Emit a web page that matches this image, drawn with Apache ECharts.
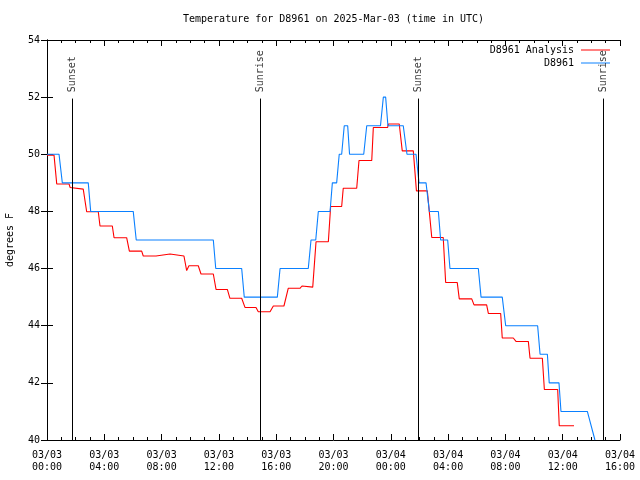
<!DOCTYPE html>
<html>
<head>
<meta charset="utf-8">
<script src="https://cdn.jsdelivr.net/npm/echarts@6/dist/echarts.min.js"></script>
<style>html,body{margin:0;padding:0;background:#fff}#c{width:640px;height:480px}</style>
</head>
<body>
<div id="c"></div>
<script>
// Hours since 2025-03-03 00:00 UTC
const tickLabels = ['03/03\n00:00','03/03\n04:00','03/03\n08:00','03/03\n12:00','03/03\n16:00','03/03\n20:00',
  '03/04\n00:00','03/04\n04:00','03/04\n08:00','03/04\n12:00','03/04\n16:00'];

const analysisHours = [0,0.49,0.68,1.54,1.61,2.53,2.77,3.58,3.70,4.56,4.68,5.56,5.75,6.61,6.72,7.61,7.71,8.59,8.70,9.56,
  9.75,9.91,10.56,10.75,11.61,11.80,12.59,12.77,13.59,13.82,14.59,14.75,15.57,15.80,16.54,16.84,17.66,17.80,18.55,18.78,
  19.64,19.80,20.57,20.68,21.62,21.78,22.67,22.78,23.78,23.83,24.59,24.80,25.57,25.79,26.55,26.86,27.66,27.83,28.64,28.78,
  29.65,29.81,30.69,30.81,31.67,31.78,32.55,32.74,33.60,33.72,34.58,34.72,35.65,35.76,36.79];
const analysisTemps = [49.97,49.97,48.96,48.96,48.84,48.78,47.99,47.99,47.49,47.49,47.08,47.08,46.61,46.61,46.44,46.44,46.51,46.51,46.44,46.44,
  45.93,46.10,46.10,45.81,45.81,45.27,45.27,44.96,44.96,44.64,44.64,44.49,44.49,44.69,44.69,45.31,45.31,45.39,45.35,46.94,
  46.94,48.17,48.17,48.81,48.81,49.78,49.78,50.94,50.94,51.06,51.06,50.12,50.12,48.72,48.72,47.09,47.09,45.51,45.51,44.94,
  44.94,44.73,44.73,44.43,44.43,43.57,43.57,43.45,43.45,42.86,42.86,41.77,41.77,40.50,40.50];

const stationHours = [0,0.84,1.07,2.88,3.05,6.02,6.23,11.61,11.78,13.59,13.77,16.08,16.27,18.24,18.43,18.76,18.94,19.76,19.92,20.22,
  20.40,20.57,20.75,20.99,21.12,22.11,22.32,23.28,23.48,23.64,23.80,24.87,25.13,25.76,25.97,26.46,26.69,27.32,27.48,27.97,
  28.13,30.11,30.30,31.78,32.02,34.25,34.42,34.93,35.06,35.74,35.88,37.72,38.25];
const stationTemps = [50,50,49,49,48,48,47,47,46,46,45,45,46,46,47,47,48,48,49,49,
  50,50,51,51,50,50,51,51,52,52,51,51,50,50,49,49,48,48,47,47,
  46,46,45,45,44,44,43,43,42,42,41,41,40];

const eventHours = [1.745, 14.87, 25.90, 38.81];
const eventNames = ['Sunset', 'Sunrise', 'Sunset', 'Sunrise'];
const eventLineTop = 51.95;
const eventLabelY = 52.17;

const zip = (a, b) => a.map((v, i) => [v, b[i]]);
const FONT = 'DejaVu Sans Mono';

const chart = echarts.init(document.getElementById('c'), null, {renderer: 'canvas'});
const axisCommon = {
  axisLine: {show: true, lineStyle: {color: '#000', width: 1}},
  splitLine: {show: false},
};
chart.setOption({
  animation: false,
  backgroundColor: '#fff',
  textStyle: {fontFamily: FONT},
  title: {
    text: 'Temperature for D8961 on 2025-Mar-03 (time in UTC)',
    left: 183, top: 14, padding: 0,
    textStyle: {fontFamily: FONT, fontSize: 10, fontWeight: 'normal', color: '#000'}
  },
  legend: {
    orient: 'vertical', right: 30, top: 44, align: 'right', padding: 0,
    itemWidth: 29, itemHeight: 1, itemGap: 1,
    textStyle: {fontFamily: FONT, fontSize: 10, color: '#000', lineHeight: 12, padding: [0, 2, 0, 0]},
    data: [{name: 'D8961 Analysis', icon: 'rect'}, {name: 'D8961', icon: 'rect'}]
  },
  grid: {left: 47, right: 20, top: 40, bottom: 40, containLabel: false, outerBoundsMode: 'none'},
  xAxis: [
    Object.assign({
      type: 'value', min: 0, max: 40, interval: 4, position: 'bottom',
      axisTick: {show: true, inside: true, length: 6, lineStyle: {color: '#000'}},
      minorTick: {show: true, splitNumber: 4, length: 3, lineStyle: {color: '#000'}},
      axisLabel: {
        fontFamily: FONT, fontSize: 10, color: '#000', margin: 9, lineHeight: 12,
        formatter: v => tickLabels[Math.round(v / 4)]
      }
    }, axisCommon),
    Object.assign({
      type: 'value', min: 0, max: 40, interval: 4, position: 'top',
      axisTick: {show: true, inside: true, length: 6, lineStyle: {color: '#000'}},
      minorTick: {show: true, splitNumber: 4, length: 3, lineStyle: {color: '#000'}},
      axisLabel: {show: false}
    }, axisCommon)
  ],
  yAxis: [
    Object.assign({
      type: 'value', min: 40, max: 54, interval: 2, position: 'left',
      name: 'degrees F', nameLocation: 'middle', nameGap: 32, nameRotate: 90,
      nameTextStyle: {fontFamily: FONT, fontSize: 10, color: '#000'},
      axisTick: {show: true, inside: true, length: 6, lineStyle: {color: '#000'}},
      axisLabel: {fontFamily: FONT, fontSize: 10, color: '#000', margin: 7}
    }, axisCommon),
    Object.assign({
      type: 'value', min: 40, max: 54, interval: 2, position: 'right',
      axisTick: {show: true, inside: true, length: 6, lineStyle: {color: '#000'}},
      axisLabel: {show: false}
    }, axisCommon)
  ],
  series: [
    {
      name: 'D8961 Analysis', type: 'line', data: zip(analysisHours, analysisTemps),
      showSymbol: false, symbol: 'none', color: '#ff0000',
      lineStyle: {width: 1.1, color: '#ff0000'}, z: 3,
      markLine: {
        silent: true, symbol: 'none', animation: false,
        lineStyle: {color: '#000', width: 1, type: 'solid'},
        label: {show: false},
        data: eventHours.map(h => [{coord: [h, 40]}, {coord: [h, eventLineTop]}])
      }
    },
    {
      name: 'D8961', type: 'line', data: zip(stationHours, stationTemps),
      showSymbol: false, symbol: 'none', color: '#0a80ff',
      lineStyle: {width: 1.1, color: '#0a80ff'}, z: 4
    },
    {
      name: 'events', type: 'scatter', symbolSize: 0, silent: true,
      data: eventHours.map((h, i) => ({value: [h, eventLabelY], name: eventNames[i]})),
      label: {
        show: true, position: 'inside', rotate: 90, align: 'left', verticalAlign: 'middle',
        formatter: p => p.name,
        fontFamily: FONT, fontSize: 10, color: '#000'
      },
      z: 5
    }
  ]
});
</script>
</body>
</html>
